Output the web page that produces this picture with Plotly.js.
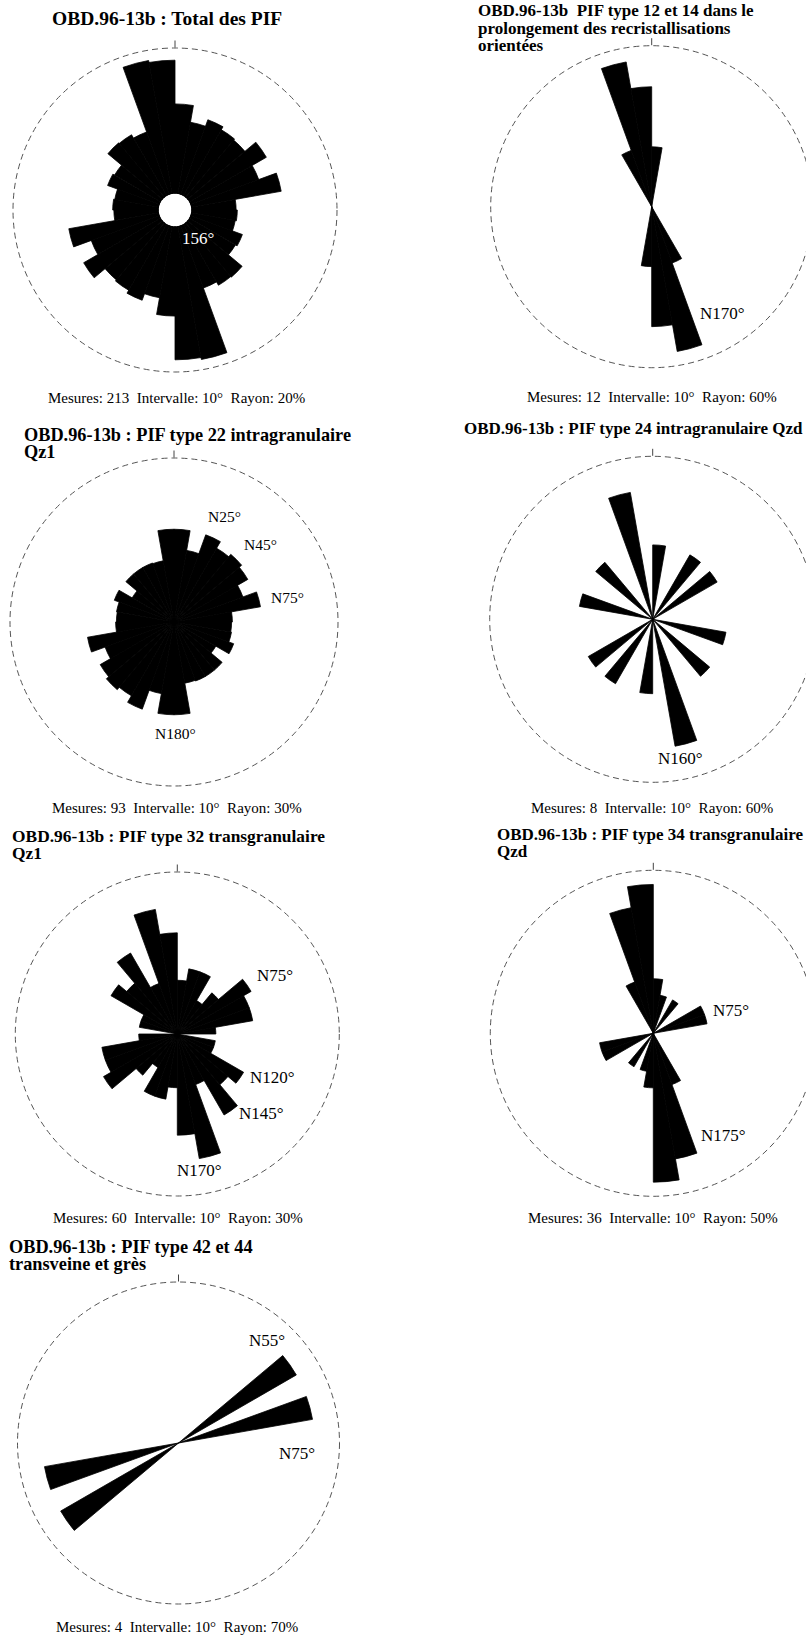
<!DOCTYPE html>
<html>
<head>
<meta charset="utf-8">
<script src="https://cdn.plot.ly/plotly-3.0.1.min.js"></script>
<style>
html,body{margin:0;padding:0;background:#fff;overflow:hidden;width:806px;height:1640px;}
#chart{width:830px;height:1640px;}
</style>
</head>
<body>
<div id="chart"></div>
<script>
// Bin centres (10° classes, N0°–N180°); each rose is bidirectional (mirrored at +180°)
const binCenters = [5,15,25,35,45,55,65,75,85,95,105,115,125,135,145,155,165,175];

// Frequencies (%) per 10° class (equal-area rose: radius ∝ √%)
const pctTotal   = [7.6,5.0,6.0,5.5,5.3,7.5,5.0,7.9,1.9,2.0,1.9,2.9,2.7,4.8,4.7,4.2,17.3,16.8];
const pctType12  = [8.3,0,0,0,0,0,0,0,0,0,0,0,0,0,0,8.3,50.0,33.3];
const pctType22  = [9.6,5.9,9.6,8.1,8.7,8.1,6.0,8.6,3.8,3.7,3.8,4.5,2.6,4.4,4.4,4.4,4.3,9.6];
const pctType24  = [12.5,0,0,12.5,0,12.5,0,0,0,0,12.5,0,0,12.5,0,0,37.5,0];
const pctType32  = [3.3,5.0,5.0,1.7,3.3,8.3,6.7,6.7,1.7,0,1.7,1.7,6.7,5.0,10.0,3.3,18.3,11.7];
const pctType34  = [5.6,2.8,0,2.8,0,0,5.6,5.6,0,0,0,0,0,0,0,5.6,30.6,41.7];
const pctType42  = [0,0,0,0,0,50.0,0,50.0,0,0,0,0,0,0,0,0,0,0];

const mesures = [213,12,93,8,60,36,4];
const rayons  = [20,60,30,60,30,50,70];
const intervalle = 10;

const titleLines = [
  ["OBD.96-13b : Total des PIF"],
  ["OBD.96-13b  PIF type 12 et 14 dans le","prolongement des recristallisations","orientées"],
  ["OBD.96-13b : PIF type 22 intragranulaire","Qz1"],
  ["OBD.96-13b : PIF type 24 intragranulaire Qzd"],
  ["OBD.96-13b : PIF type 32 transgranulaire","Qz1"],
  ["OBD.96-13b : PIF type 34 transgranulaire","Qzd"],
  ["OBD.96-13b : PIF type 42 et 44","transveine et grès"]
];

const dirLabels = [
  ["156°"],
  ["N170°"],
  ["N25°","N45°","N75°","N180°"],
  ["N160°"],
  ["N75°","N120°","N145°","N170°"],
  ["N75°","N175°"],
  ["N55°","N75°"]
];

const series = [pctTotal,pctType12,pctType22,pctType24,pctType32,pctType34,pctType42];

// ---------- layout geometry (pixels) ----------
const W = 830, H = 1640;
const geom = [
  {cx:175,   cy:210,    R:162, hole:0.1},
  {cx:651.7, cy:206.7,  R:161, hole:0},
  {cx:174,   cy:622,    R:164, hole:0},
  {cx:652.7, cy:619.3,  R:163, hole:0},
  {cx:177.3, cy:1034,   R:162, hole:0},
  {cx:653.3, cy:1033.3, R:163, hole:0},
  {cx:178.5, cy:1443,   R:161, hole:0}
];
const titlePos = [
  {x:50,  y:[18],        size:19.5},
  {x:476, y:[10,28,45],  size:17},
  {x:22,  y:[435,452],   size:18.3},
  {x:462, y:[428],       size:17},
  {x:10,  y:[836,853],   size:17.4},
  {x:495, y:[834,851],   size:17},
  {x:7,   y:[1247,1264], size:18.3}
];
const captionPos = [[176,398],[652,397],[177,808],[652,808],[178,1218],[653,1218],[177,1627]];
const labelPos = [
  [[198,238]],
  [[722,313]],
  [[224,517],[260,545],[287,597],[175,733]],
  [[680,758]],
  [[275,975],[272,1077],[261,1113],[199,1170]],
  [[731,1010],[723,1135]],
  [[267,1340],[297,1453]]
];

const px = x => x / W;
const py = y => 1 - y / H;

const traces = [];
const layout = {
  width: W, height: H,
  margin: {l:0, r:0, t:0, b:0},
  paper_bgcolor: '#fff',
  showlegend: false,
  font: {family: 'Liberation Serif, serif', color: '#000'},
  annotations: [],
  shapes: []
};

series.forEach((pct, i) => {
  const key = i === 0 ? 'polar' : 'polar' + (i + 1);
  const theta = binCenters.concat(binCenters.map(t => t + 180));
  const r = pct.concat(pct).map(p => Math.sqrt(p));
  traces.push({
    type: 'barpolar', subplot: key,
    theta: theta, r: r, width: intervalle,
    marker: {color: '#000', line: {color: '#000', width: 0.8}},
    hoverinfo: 'skip'
  });
  const g = geom[i];
  const rmax = Math.sqrt(rayons[i]);
  layout[key] = {
    domain: {x: [px(g.cx - g.R), px(g.cx + g.R)], y: [py(g.cy + g.R), py(g.cy - g.R)]},
    bgcolor: 'rgba(0,0,0,0)',
    hole: g.hole,
    bargap: 0,
    radialaxis: {
      range: [0, rmax], showticklabels: false, ticks: '',
      showline: false, showgrid: false
    },
    angularaxis: {
      rotation: 90, direction: 'clockwise', showgrid: false, showline: false,
      ticks: 'outside', tickvals: [0], ticklen: 7, tickwidth: 1, tickcolor: '#444',
      showticklabels: false
    }
  };
  // outer "Rayon" circle (dashed), same box as the polar domain
  layout.shapes.push({
    type: 'circle', xref: 'paper', yref: 'paper',
    x0: px(g.cx - g.R), x1: px(g.cx + g.R), y0: py(g.cy + g.R), y1: py(g.cy - g.R),
    line: {color: '#555', width: 1, dash: '6px,4px'}, layer: 'below'
  });
  // titles
  titleLines[i].forEach((t, k) => {
    layout.annotations.push({
      text: '<b>' + t + '</b>', x: px(titlePos[i].x), y: py(titlePos[i].y[k]),
      xref: 'paper', yref: 'paper', xanchor: 'left', yanchor: 'middle', showarrow: false,
      font: {family: 'Liberation Serif, serif', size: titlePos[i].size, color: '#000'}
    });
  });
  // caption
  layout.annotations.push({
    text: 'Mesures: ' + mesures[i] + '  Intervalle: ' + intervalle + '°  Rayon: ' + rayons[i] + '%',
    x: px(captionPos[i][0]), y: py(captionPos[i][1]), xref: 'paper', yref: 'paper',
    xanchor: 'center', yanchor: 'middle', showarrow: false,
    font: {family: 'Liberation Serif, serif', size: 15, color: '#000'}
  });
  // direction labels
  dirLabels[i].forEach((t, k) => {
    layout.annotations.push({
      text: t, x: px(labelPos[i][k][0]), y: py(labelPos[i][k][1]), xref: 'paper', yref: 'paper',
      xanchor: 'center', yanchor: 'middle', showarrow: false,
      font: {family: 'Liberation Serif, serif', size: i === 2 ? 15.5 : 17, color: i === 0 ? '#fff' : '#000'}
    });
  });
});

Plotly.newPlot('chart', traces, layout, {staticPlot: true, displayModeBar: false});
</script>
</body>
</html>
